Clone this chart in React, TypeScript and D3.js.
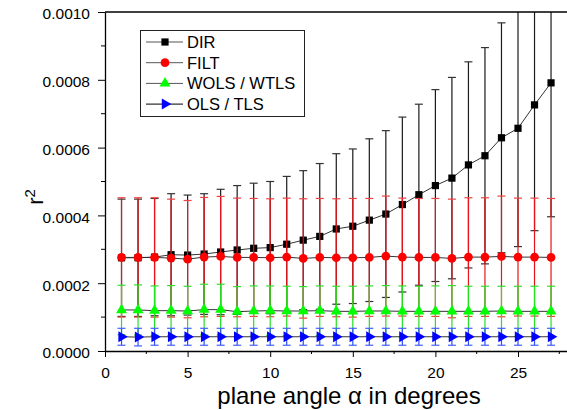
import React, { useEffect, useRef } from 'react'
import * as d3 from 'd3'

// plane angle in degrees
const angles = [1, 2, 3, 4, 5, 6, 7, 8, 9, 10, 11, 12, 13, 14, 15, 16, 17, 18, 19, 20, 21, 22, 23, 24, 25, 26, 27]

const dirMean = [
  0.000275, 0.000275, 0.000277, 0.000284, 0.000283, 0.000286, 0.000292, 0.000298, 0.000303,
  0.000305, 0.000315, 0.000327, 0.000338, 0.00036, 0.000368, 0.000386, 0.000404, 0.000432,
  0.000461, 0.000488, 0.00051, 0.000549, 0.000576, 0.000629, 0.000657, 0.000726, 0.000791,
]
const dirErr = [
  0.000173, 0.000173, 0.000173, 0.00018, 0.000177, 0.000178, 0.000185, 0.00019, 0.000192,
  0.000195, 0.0002, 0.000205, 0.000215, 0.000222, 0.000228, 0.00024, 0.000246, 0.000258,
  0.000267, 0.000283, 0.000297, 0.000304, 0.000319, 0.000339, 0.000349, 0.000371, 0.000395,
]
const filtMean = [
  0.000276, 0.000276, 0.000276, 0.000274, 0.000271, 0.000277, 0.000279, 0.000276, 0.000276,
  0.000275, 0.000277, 0.000273, 0.000276, 0.000275, 0.000275, 0.000276, 0.00028, 0.000277,
  0.000276, 0.000276, 0.000273, 0.000277, 0.000277, 0.000279, 0.000277, 0.000277, 0.000276,
]
const filtErr = [
  0.000176, 0.000176, 0.000176, 0.000174, 0.000173, 0.000176, 0.000177, 0.000175, 0.000174,
  0.000174, 0.000174, 0.000176, 0.000174, 0.000174, 0.000175, 0.000174, 0.000177, 0.000174,
  0.000174, 0.000174, 0.000175, 0.000175, 0.000175, 0.000178, 0.000174, 0.000174, 0.000174,
]
const wolsMean = [
  0.000121, 0.000121, 0.000119, 0.000119, 0.000118, 0.000122, 0.000122, 0.000116, 0.000118,
  0.000119, 0.000118, 0.000118, 0.000119, 0.000117, 0.000117, 0.000118, 0.000118, 0.000117,
  0.000117, 0.000117, 0.000117, 0.000117, 0.000117, 0.000118, 0.000117, 0.000117, 0.000117,
]
const wolsErr = [
  0.000073, 0.000074, 0.000073, 0.000074, 0.000073, 0.000075, 0.000075, 0.000074, 0.000074,
  0.000073, 0.000073, 0.000072, 0.000073, 0.000074, 0.000074, 0.000074, 0.000075, 0.000075,
  0.000074, 0.000075, 0.000076, 0.000074, 0.000074, 0.000073, 0.000074, 0.000074, 0.000074,
]
const olsMean = [
  0.000042, 0.000041, 0.000042, 0.000042, 0.000042, 0.000042, 0.000042, 0.000042, 0.000042,
  0.000042, 0.000042, 0.000042, 0.000042, 0.000042, 0.000042, 0.000042, 0.000042, 0.000042,
  0.000042, 0.000042, 0.000042, 0.000042, 0.000042, 0.000042, 0.000042, 0.000042, 0.000042,
]
const olsErr = [
  0.000025, 0.000026, 0.000025, 0.000025, 0.000025, 0.000025, 0.000025, 0.000025, 0.000025,
  0.000025, 0.000025, 0.000025, 0.000025, 0.000025, 0.000025, 0.000025, 0.000025, 0.000025,
  0.000025, 0.000025, 0.000025, 0.000025, 0.000025, 0.000025, 0.000025, 0.000025, 0.000025,
]

const seriesNames = ['DIR', 'FILT', 'WOLS / WTLS', 'OLS / TLS']
const xTicks = [0, 5, 10, 15, 20, 25]
const yTicks = [0, 0.0002, 0.0004, 0.0006, 0.0008, 0.001]

const FONT = '"Liberation Sans", Arial, Helvetica, sans-serif'

const App = () => {
  const svgRef = useRef<SVGSVGElement>(null)

  useEffect(() => {
    const svg = d3.select(svgRef.current)
    svg.selectAll('*').remove()

    const W = 567
    const H = 410
    const left = 105
    const top = 12
    const bottom = 351

    const x = d3.scaleLinear().domain([0, 28]).range([left, left + 28 * 16.52])
    const y = d3.scaleLinear().domain([0, 0.001]).range([bottom, top])

    svg.attr('width', W).attr('height', H)

    svg
      .append('defs')
      .append('clipPath')
      .attr('id', 'plotclip')
      .append('rect')
      .attr('x', left)
      .attr('y', top)
      .attr('width', W - left)
      .attr('height', bottom - top)

    const series = [
      { name: seriesNames[0], mean: dirMean, err: dirErr, fill: '#000', bar: '#1a1a1a', cap: '#333', sym: d3.symbolSquare, size: 52, rot: 0 },
      { name: seriesNames[1], mean: filtMean, err: filtErr, fill: '#ff0000', bar: '#e8141c', cap: '#f04040', sym: d3.symbolCircle, size: 60, rot: 0 },
      { name: seriesNames[2], mean: wolsMean, err: wolsErr, fill: '#00ff00', bar: '#22e022', cap: '#30e030', sym: d3.symbolTriangle, size: 52, rot: 0 },
      { name: seriesNames[3], mean: olsMean, err: olsErr, fill: '#0000ff', bar: '#3050f0', cap: '#4060ff', sym: d3.symbolTriangle, size: 52, rot: 90 },
    ]

    const plot = svg.append('g').attr('clip-path', 'url(#plotclip)')
    const line = d3
      .line<number>()
      .x((d, i) => x(angles[i]))
      .y((d) => y(d))

    series.forEach((s) => {
      const g = plot.append('g')
      g.append('path')
        .attr('d', line(s.mean))
        .attr('fill', 'none')
        .attr('stroke', '#333')
        .attr('stroke-width', 1)

      const bars = g
        .selectAll('g.bar')
        .data(s.mean)
        .enter()
        .append('g')
      bars
        .append('line')
        .attr('x1', (d, i) => x(angles[i]))
        .attr('x2', (d, i) => x(angles[i]))
        .attr('y1', (d, i) => y(d - s.err[i]))
        .attr('y2', (d, i) => y(d + s.err[i]))
        .attr('stroke', s.bar)
        .attr('stroke-width', 1.2)
      ;[-1, 1].forEach((sgn) => {
        bars
          .append('line')
          .attr('x1', (d, i) => x(angles[i]) - 4)
          .attr('x2', (d, i) => x(angles[i]) + 4)
          .attr('y1', (d, i) => y(d + sgn * s.err[i]))
          .attr('y2', (d, i) => y(d + sgn * s.err[i]))
          .attr('stroke', s.cap)
          .attr('stroke-width', 1.2)
      })

      g.selectAll('path.mk')
        .data(s.mean)
        .enter()
        .append('path')
        .attr('d', d3.symbol().type(s.sym).size(s.size)())
        .attr('transform', (d, i) => `translate(${x(angles[i])},${y(d)}) rotate(${s.rot})`)
        .attr('fill', s.fill)
    })

    // axes
    const yAxis = d3.axisLeft(y).tickValues(yTicks).tickFormat(d3.format('.4f')).tickSize(7).tickSizeOuter(0).tickPadding(8)
    const gy = svg.append('g').attr('transform', `translate(${left},0)`).call(yAxis)
    const xAxis = d3.axisBottom(x).tickValues(xTicks).tickFormat(d3.format('d')).tickSize(6).tickSizeOuter(0).tickPadding(10)
    const gx = svg.append('g').attr('transform', `translate(0,${bottom})`).call(xAxis)
    ;[gx, gy].forEach((g) => {
      g.selectAll('text').attr('font-family', FONT).attr('font-size', 15.5).attr('fill', '#000')
      g.selectAll('line').attr('stroke', '#000')
      g.select('.domain').attr('stroke', '#000').attr('stroke-width', 1.3)
    })
    gy.selectAll('text').attr('dy', '0.45em')

    // minor ticks
    const yMinor = [0.0001, 0.0003, 0.0005, 0.0007, 0.0009]
    svg
      .append('g')
      .selectAll('line')
      .data(yMinor)
      .enter()
      .append('line')
      .attr('x1', left - 4)
      .attr('x2', left)
      .attr('y1', (d) => y(d))
      .attr('y2', (d) => y(d))
      .attr('stroke', '#000')
    const xMinor = [2.5, 7.5, 12.5, 17.5, 22.5, 27.5]
    svg
      .append('g')
      .selectAll('line')
      .data(xMinor)
      .enter()
      .append('line')
      .attr('x1', (d) => x(d))
      .attr('x2', (d) => x(d))
      .attr('y1', bottom)
      .attr('y2', bottom + 3)
      .attr('stroke', '#000')

    // top frame
    svg
      .append('line')
      .attr('x1', left)
      .attr('x2', W)
      .attr('y1', top)
      .attr('y2', top)
      .attr('stroke', '#000')
      .attr('stroke-width', 1.3)

    // axis titles
    svg
      .append('text')
      .attr('x', 349)
      .attr('y', 404)
      .attr('text-anchor', 'middle')
      .attr('font-family', FONT)
      .attr('font-size', 24)
      .text('plane angle α in degrees')

    const yt = svg
      .append('text')
      .attr('transform', 'translate(43,197) rotate(-90)')
      .attr('text-anchor', 'middle')
      .attr('font-family', FONT)
      .attr('font-size', 22)
    yt.append('tspan').text('r')
    yt.append('tspan').attr('dy', -8).attr('font-size', 15).text('2')

    // legend
    const lg = svg.append('g')
    lg.append('rect')
      .attr('x', 140.5)
      .attr('y', 30.5)
      .attr('width', 164)
      .attr('height', 86)
      .attr('fill', '#fff')
      .attr('stroke', '#222')
      .attr('stroke-width', 1)
    series.forEach((s, i) => {
      const ly = 42 + i * 20.7
      lg.append('line')
        .attr('x1', 146)
        .attr('x2', 183)
        .attr('y1', ly)
        .attr('y2', ly)
        .attr('stroke', i === 3 ? '#000' : '#555')
        .attr('stroke-width', 1)
      lg.append('path')
        .attr('d', d3.symbol().type(s.sym).size(s.size)())
        .attr('transform', `translate(165,${ly}) rotate(${s.rot})`)
        .attr('fill', s.fill)
      lg.append('text')
        .attr('x', 187)
        .attr('y', ly + 6)
        .attr('font-family', FONT)
        .attr('font-size', 16.5)
        .text(s.name)
    })
  }, [])

  return (
    <svg
      ref={svgRef}
      style={{ position: 'absolute', left: 0, top: 0, display: 'block', background: '#fff' }}
    ></svg>
  )
}

export default App
